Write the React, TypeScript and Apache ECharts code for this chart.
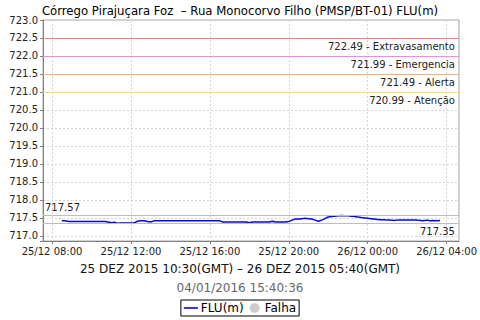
import React, { useEffect, useRef } from "react";
import * as echarts from "echarts";

// Level readings every 10 minutes, 25/12/2015 08:30 -> 26/12/2015 03:40 (local)
const START = Date.UTC(2015, 11, 25, 8, 30);
const STEP_MIN = 10;
const h08 = [717.42, 717.42, 717.4];
const h09 = [717.4, 717.4, 717.4, 717.4, 717.4, 717.4];
const h10 = [717.4, 717.4, 717.4, 717.4, 717.4, 717.39];
const h11 = [717.37, 717.38, 717.35, 717.36, 717.36, 717.36];
const h12 = [717.36, 717.36, 717.41, 717.42, 717.42, 717.4];
const h13 = [717.39, 717.42, 717.42, 717.42, 717.42, 717.42];
const h14 = [717.42, 717.42, 717.42, 717.42, 717.42, 717.42];
const h15 = [717.42, 717.42, 717.42, 717.42, 717.42, 717.42];
const h16 = [717.42, 717.42, 717.42, 717.42, 717.39, 717.39];
const h17 = [717.39, 717.39, 717.39, 717.39, 717.39, 717.39];
const h18 = [717.37, 717.39, 717.39, 717.39, 717.39, 717.39];
const h19 = [717.39, 717.41, 717.39, 717.39, 717.39, 717.39];
const h20 = [717.4, 717.44, 717.47, 717.47, 717.48, 717.49];
const h21 = [717.48, 717.47, 717.44, 717.41, 717.44, 717.48];
const h22 = [717.53, 717.54, 717.55, 717.56, 717.57, 717.56];
const h23 = [717.56, 717.55, 717.54, 717.53, 717.51, 717.5];
const h00 = [717.49, 717.48, 717.47, 717.46, 717.45, 717.45];
const h01 = [717.44, 717.44, 717.43, 717.44, 717.44, 717.44];
const h02 = [717.44, 717.44, 717.44, 717.44, 717.43, 717.42];
const h03 = [717.44, 717.42, 717.43, 717.42, 717.43];
const levels = [
  ...h08, ...h09, ...h10, ...h11, ...h12, ...h13, ...h14, ...h15, ...h16, ...h17,
  ...h18, ...h19, ...h20, ...h21, ...h22, ...h23, ...h00, ...h01, ...h02, ...h03,
];

// Threshold levels
const thresholdValues = [722.49, 721.99, 721.49, 720.99];
const thresholdNames = ["Extravasamento", "Emergencia", "Alerta", "Atenção"];
const thresholdColors = ["#ff8080", "#ff80ff", "#ffb070", "#ffe060"];

// Axis ranges
const X_MIN = Date.UTC(2015, 11, 25, 7, 32, 30);
const X_MAX = Date.UTC(2015, 11, 26, 4, 37, 30);
const Y_MIN = 716.86;
const Y_MAX = 723.0;

const TITLE = "Córrego Pirajuçara Foz  – Rua Monocorvo Filho (PMSP/BT-01) FLU(m)";
const SUB1 = "25 DEZ 2015 10:30(GMT) – 26 DEZ 2015 05:40(GMT)";
const SUB2 = "04/01/2016 15:40:36";

const FONT = "DejaVu Sans";

const pad = (n: number) => (n < 10 ? "0" + n : "" + n);

export default function App() {
  const ref = useRef<HTMLDivElement>(null);
  useEffect(() => {
    if (!ref.current) return;
    const chart = echarts.init(ref.current, undefined, { renderer: "svg" });
    const data = levels.map((v, i) => [START + i * STEP_MIN * 60000, v]);
    const maxV = Math.max(...levels);
    const minV = Math.min(...levels);
    const thresholdLines = thresholdValues.map((v, i) => ({
      yAxis: v,
      lineStyle: { color: thresholdColors[i], type: "solid", width: 1 },
      label: {
        show: true,
        position: "insideEndBottom",
        formatter: v.toFixed(2) + " - " + thresholdNames[i],
        color: "#222",
        fontSize: 10,
        fontFamily: FONT,
        distance: [4, 3],
      },
    }));
    chart.setOption({
      animation: false,
      useUTC: true,
      backgroundColor: "#fff",
      textStyle: { fontFamily: FONT },
      title: [
        {
          text: TITLE,
          left: "center",
          top: 0,
          textStyle: { fontSize: 11.7, fontWeight: "normal", color: "#000", fontFamily: FONT },
        },
        {
          text: SUB1,
          left: "center",
          top: 258,
          textStyle: { fontSize: 12, fontWeight: "normal", color: "#111", fontFamily: FONT },
        },
        {
          text: SUB2,
          left: "center",
          top: 277,
          textStyle: { fontSize: 12, fontWeight: "normal", color: "#666", fontFamily: FONT },
        },
      ],
      legend: {
        bottom: 4,
        left: "center",
        borderColor: "#000",
        borderWidth: 1,
        borderRadius: 0,
        padding: [2, 3],
        itemGap: 6,
        itemWidth: 14,
        itemHeight: 10,
        textStyle: { fontSize: 12, color: "#000", fontFamily: FONT, padding: [0, 0, 0, -2] },
        data: [
          { name: "FLU(m)", icon: "path://M0,0H14V1.6H0Z" },
          { name: "Falha", icon: "circle" },
        ],
      },
      grid: {
        left: 43,
        right: 8,
        top: 20,
        bottom: 79,
        show: true,
        borderColor: "#a8a8a8",
        borderWidth: 1,
        backgroundColor: "#fff",
      },
      xAxis: {
        type: "time",
        min: X_MIN,
        max: X_MAX,
        minInterval: 4 * 3600000,
        maxInterval: 4 * 3600000,
        axisLine: { show: true, lineStyle: { color: "#808080" } },
        axisTick: { show: true, length: 3, lineStyle: { color: "#808080" } },
        axisLabel: {
          color: "#222",
          fontSize: 10,
          fontFamily: FONT,
          margin: 5,
          hideOverlap: false,
          formatter: (val: number) => {
            const d = new Date(val);
            return (
              pad(d.getUTCDate()) + "/" + pad(d.getUTCMonth() + 1) + " " +
              pad(d.getUTCHours()) + ":" + pad(d.getUTCMinutes())
            );
          },
        },
        splitLine: { show: true, lineStyle: { color: "#d4d4d4", type: [2, 2] } },
      },
      yAxis: {
        type: "value",
        min: Y_MIN,
        max: Y_MAX,
        splitNumber: 12,
        minInterval: 0.5,
        maxInterval: 0.5,
        axisLine: { show: true, lineStyle: { color: "#808080" } },
        axisTick: { show: true, length: 3, lineStyle: { color: "#808080" } },
        axisLabel: {
          color: "#222",
          fontSize: 10,
          fontFamily: FONT,
          margin: 5,
          formatter: (v: number) =>
            Math.abs(v * 2 - Math.round(v * 2)) < 1e-6 ? v.toFixed(1) : "",
        },
        splitLine: { show: true, lineStyle: { color: "#d4d4d4", type: [2, 2] } },
      },
      series: [
        {
          name: "FLU(m)",
          type: "line",
          data,
          symbol: "none",
          color: "#0000ff",
          lineStyle: { color: "#0000ff", width: 1.5 },
          markLine: {
            silent: true,
            symbol: "none",
            data: [
              ...thresholdLines,
              {
                yAxis: maxV,
                lineStyle: { color: "#bdbdbd", type: "solid", width: 1 },
                label: {
                  show: true,
                  position: "insideStartTop",
                  formatter: maxV.toFixed(2),
                  color: "#222",
                  fontSize: 10,
                  fontFamily: FONT,
                  distance: [2, 3],
                },
              },
              {
                yAxis: minV,
                lineStyle: { color: "#bdbdbd", type: "solid", width: 1 },
                label: {
                  show: true,
                  position: "insideEndBottom",
                  formatter: minV.toFixed(2),
                  color: "#222",
                  fontSize: 10,
                  fontFamily: FONT,
                  distance: [4, 3],
                },
              },
            ],
          },
        },
        {
          name: "Falha",
          type: "scatter",
          data: [],
          color: "#c0c0c0",
          itemStyle: { color: "#c0c0c0" },
        },
      ],
    });
    return () => chart.dispose();
  }, []);
  return (
    <div
      ref={ref}
      style={{ position: "fixed", left: 0, top: 0, width: 480, height: 320 }}
    />
  );
}
